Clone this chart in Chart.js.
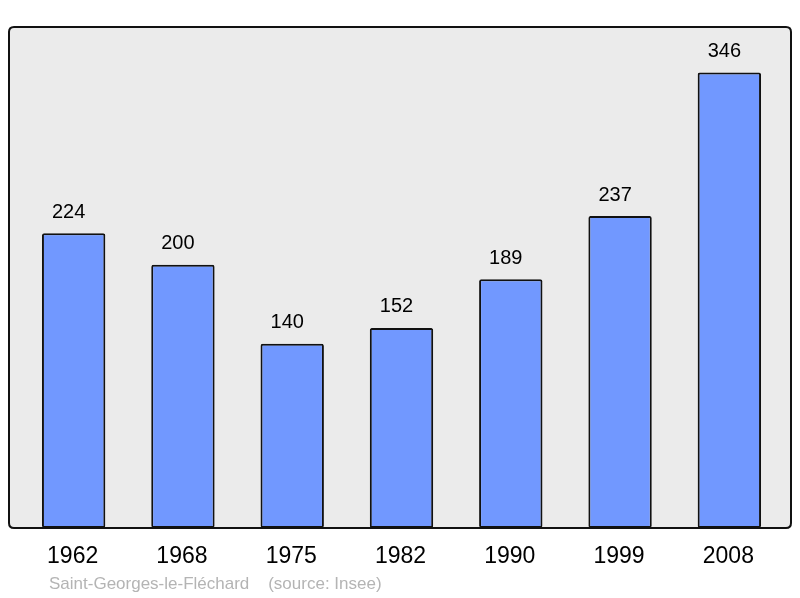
<!DOCTYPE html>
<html>
<head>
<meta charset="utf-8">
<script src="https://cdn.jsdelivr.net/npm/chart.js@4.4.1/dist/chart.umd.min.js"></script>
<style>
  html, body { margin: 0; padding: 0; background: #fff; }
  #chart { display: block; }
</style>
</head>
<body>
<canvas id="chart" width="800" height="598"></canvas>
<script>
const years = ['1962', '1968', '1975', '1982', '1990', '1999', '2008'];
const population = [224, 200, 140, 152, 189, 237, 346];
const caption = 'Saint-Georges-le-Fléchard    (source: Insee)';

const frameBox = { left: 9, right: 791, top: 27, bottom: 528, radius: 5 };

function roundRect(ctx, x, y, w, h, r) {
    ctx.beginPath();
    ctx.moveTo(x + r, y);
    ctx.lineTo(x + w - r, y);
    ctx.quadraticCurveTo(x + w, y, x + w, y + r);
    ctx.lineTo(x + w, y + h - r);
    ctx.quadraticCurveTo(x + w, y + h, x + w - r, y + h);
    ctx.lineTo(x + r, y + h);
    ctx.quadraticCurveTo(x, y + h, x, y + h - r);
    ctx.lineTo(x, y + r);
    ctx.quadraticCurveTo(x, y, x + r, y);
    ctx.closePath();
}

const framePlugin = {
    id: 'frame',
    beforeDraw(chart) {
        const ctx = chart.ctx;
        ctx.save();
        roundRect(ctx, frameBox.left, frameBox.top, frameBox.right - frameBox.left, frameBox.bottom - frameBox.top, frameBox.radius);
        ctx.fillStyle = '#ebebeb';
        ctx.fill();
        ctx.restore();
    },
    afterDraw(chart) {
        const ctx = chart.ctx;
        const x = chart.scales.x;
        const y = chart.scales.y;
        ctx.save();
        roundRect(ctx, frameBox.left, frameBox.top, frameBox.right - frameBox.left, frameBox.bottom - frameBox.top, frameBox.radius);
        ctx.strokeStyle = '#111';
        ctx.lineWidth = 2;
        ctx.stroke();

        ctx.fillStyle = '#000';
        ctx.textAlign = 'center';
        ctx.textBaseline = 'middle';
        ctx.font = '20px "Liberation Sans", Arial, sans-serif';
        population.forEach((v, i) => {
            ctx.fillText(String(v), x.getPixelForValue(i) - 5, y.getPixelForValue(v) - 21);
        });

        ctx.font = '23px "Liberation Sans", Arial, sans-serif';
        years.forEach((yr, i) => {
            ctx.fillText(yr, x.getPixelForValue(i) - 1, 557);
        });

        ctx.fillStyle = '#b4b4b4';
        ctx.textAlign = 'left';
        ctx.font = '17px "Liberation Sans", Arial, sans-serif';
        ctx.fillText(caption, 49, 584);
        ctx.restore();
    }
};

new Chart(document.getElementById('chart'), {
    type: 'bar',
    data: {
        labels: years,
        datasets: [{
            data: population,
            backgroundColor: '#7198ff',
            borderColor: '#111',
            borderWidth: 2,
            borderRadius: 2,
            borderSkipped: false,
            categoryPercentage: 0.58,
            barPercentage: 1
        }]
    },
    options: {
        responsive: false,
        animation: false,
        layout: { padding: { left: 19, right: 16, top: 27, bottom: 70 } },
        plugins: {
            legend: { display: false },
            tooltip: { enabled: false }
        },
        scales: {
            x: { display: false },
            y: { display: false, min: 0, max: 380.6 }
        }
    },
    plugins: [framePlugin]
});
</script>
</body>
</html>
